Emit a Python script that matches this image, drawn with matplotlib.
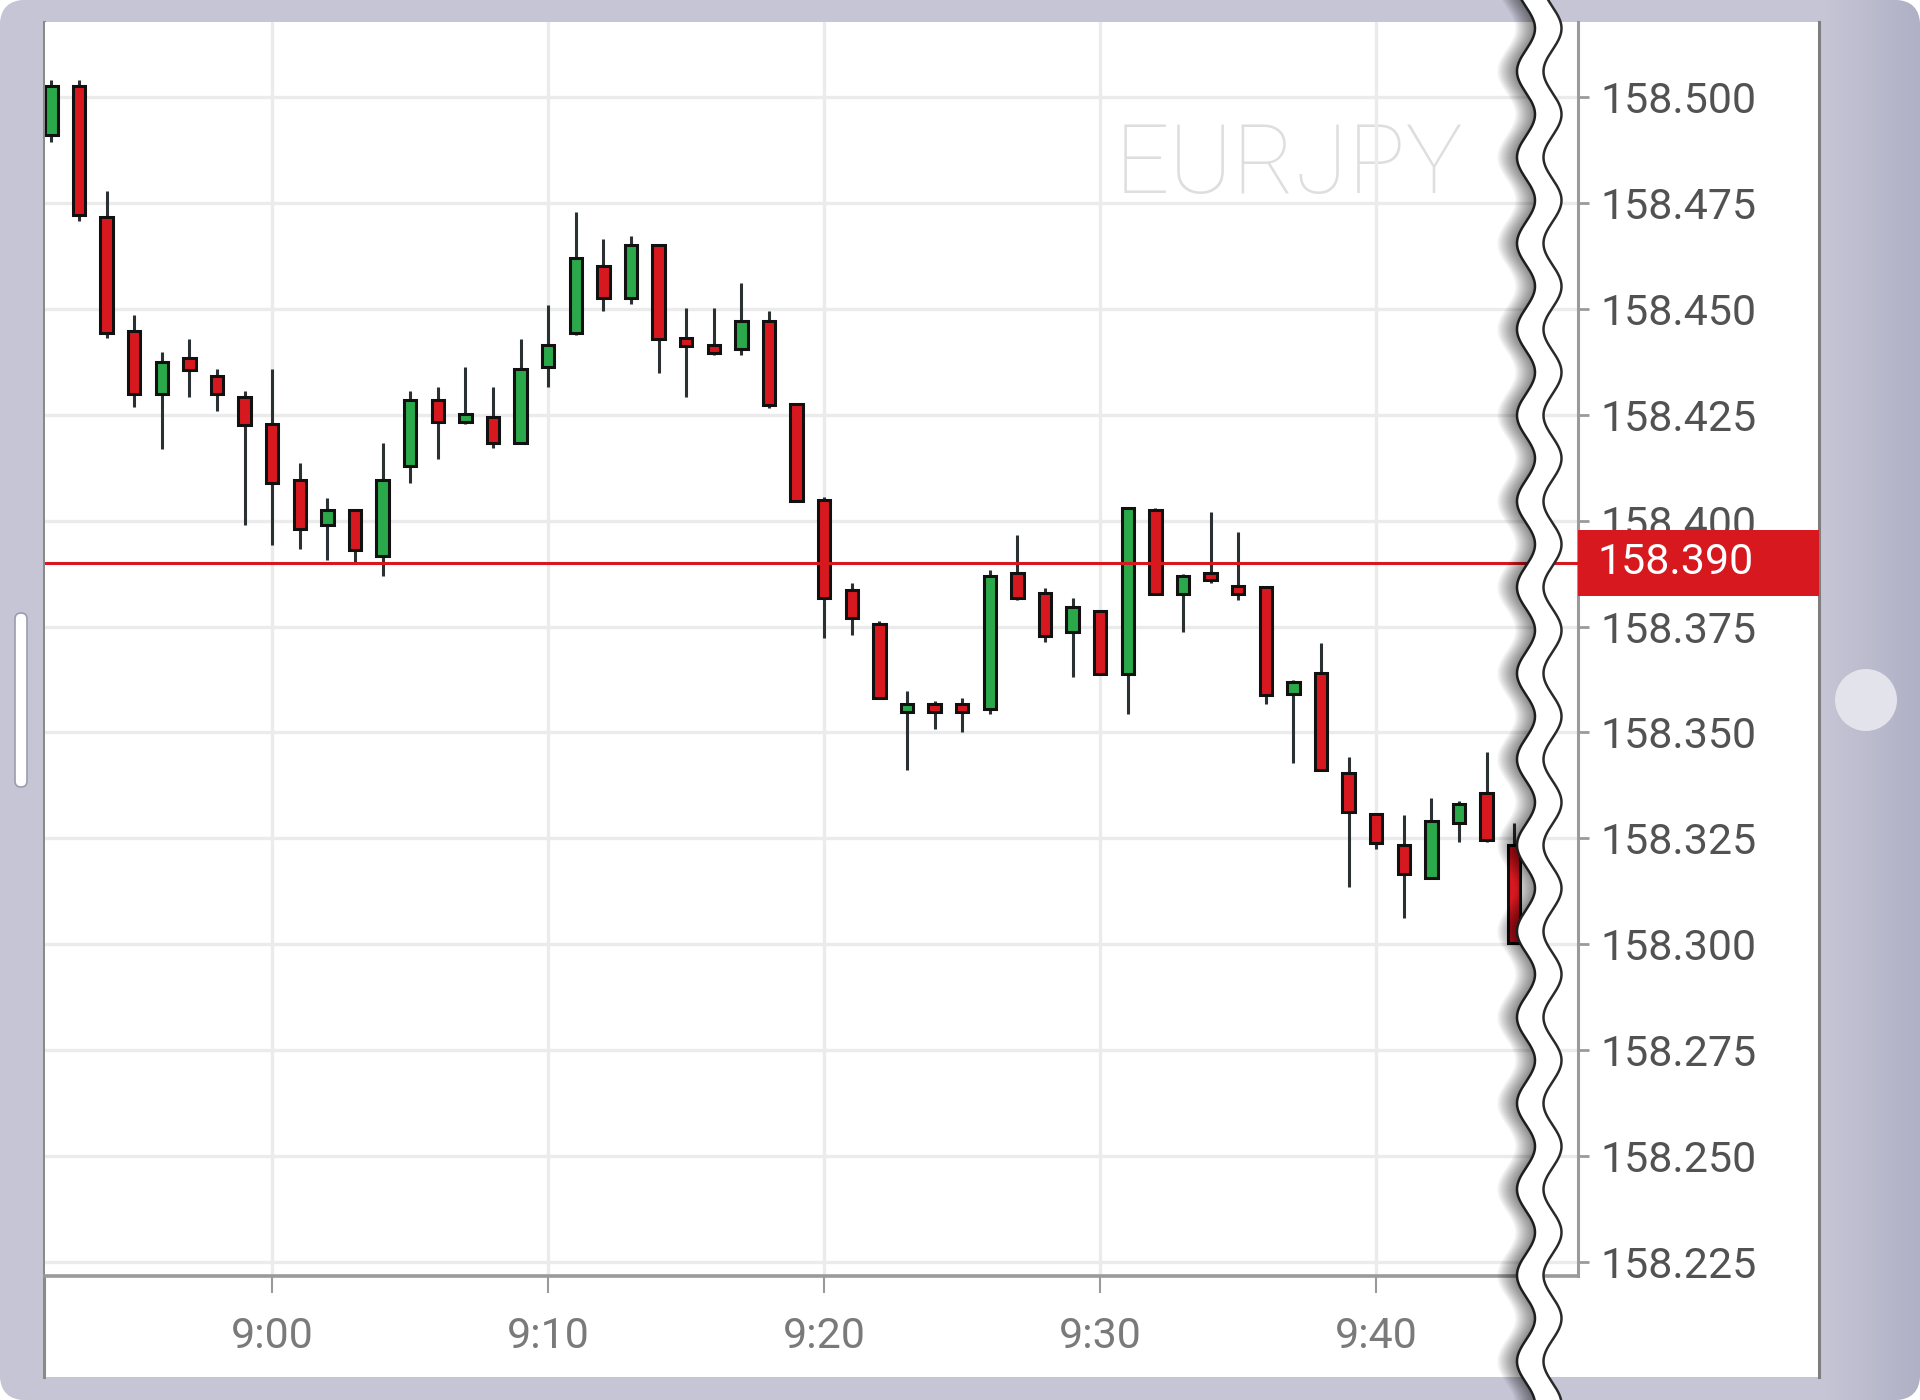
import numpy as np
import matplotlib
matplotlib.use('Agg')
import matplotlib.pyplot as plt
from matplotlib.patches import FancyBboxPatch, Rectangle, Circle
from matplotlib.transforms import blended_transform_factory

plt.rcParams['font.family'] = ['Roboto', 'DejaVu Sans']

# --- data (1-minute EURJPY candles, 8:52 .. 9:45) ---
symbol = 'EURJPY'
current_price = 158.390
start_minute = 8 * 60 + 52

opens = [158.4910, 158.5025, 158.4716, 158.4447, 158.4298, 158.4383, 158.4342, 158.4293,
         158.4228, 158.4097, 158.3990, 158.4024, 158.3916, 158.4128, 158.4284, 158.4234,
         158.4244, 158.4184, 158.4363, 158.4444, 158.4602, 158.4526, 158.4651, 158.4431,
         158.4415, 158.4404, 158.4472, 158.4276, 158.4049, 158.3837, 158.3755, 158.3549,
         158.3568, 158.3568, 158.3556, 158.3877, 158.3829, 158.3736, 158.3787, 158.3638,
         158.4025, 158.3827, 158.3877, 158.3846, 158.3844, 158.3590, 158.3640, 158.3405,
         158.3307, 158.3235, 158.3157, 158.3287, 158.3356, 158.3235]
highs = [158.5041, 158.5040, 158.4779, 158.4485, 158.4397, 158.4429, 158.4357, 158.4307,
         158.4357, 158.4135, 158.4054, 158.4024, 158.4184, 158.4307, 158.4315, 158.4363,
         158.4315, 158.4429, 158.4510, 158.4729, 158.4664, 158.4673, 158.4651, 158.4503,
         158.4503, 158.4560, 158.4495, 158.4276, 158.4055, 158.3852, 158.3762, 158.3598,
         158.3575, 158.3582, 158.3884, 158.3966, 158.3842, 158.3818, 158.3787, 158.4031,
         158.4030, 158.3875, 158.4021, 158.3972, 158.3844, 158.3623, 158.3712, 158.3443,
         158.3307, 158.3305, 158.3346, 158.3339, 158.3453, 158.3287]
lows = [158.4894, 158.4708, 158.4431, 158.4268, 158.4169, 158.4291, 158.4259, 158.3990,
        158.3943, 158.3934, 158.3907, 158.3902, 158.3869, 158.4088, 158.4146, 158.4228,
        158.4171, 158.4184, 158.4316, 158.4438, 158.4496, 158.4512, 158.4348, 158.4292,
        158.4391, 158.4390, 158.4267, 158.4047, 158.3722, 158.3729, 158.3582, 158.3412,
        158.3509, 158.3501, 158.3543, 158.3812, 158.3713, 158.3632, 158.3638, 158.3543,
        158.3827, 158.3738, 158.3852, 158.3812, 158.3566, 158.3429, 158.3411, 158.3135,
        158.3226, 158.3063, 158.3157, 158.3241, 158.3242, 158.3002]
closes = [158.5025, 158.4722, 158.4444, 158.4298, 158.4374, 158.4356, 158.4298, 158.4225,
          158.4088, 158.3981, 158.4024, 158.3931, 158.4097, 158.4284, 158.4234, 158.4252,
          158.4184, 158.4359, 158.4415, 158.4619, 158.4526, 158.4650, 158.4428, 158.4413,
          158.4395, 158.4472, 158.4273, 158.4047, 158.3817, 158.3769, 158.3582, 158.3568,
          158.3549, 158.3549, 158.3870, 158.3817, 158.3728, 158.3795, 158.3638, 158.4031,
          158.3827, 158.3870, 158.3859, 158.3827, 158.3589, 158.3618, 158.3411, 158.3313,
          158.3239, 158.3167, 158.3291, 158.3332, 158.3246, 158.3002]

ytick_values = [158.225, 158.250, 158.275, 158.300, 158.325, 158.350,
                158.375, 158.400, 158.425, 158.450, 158.475, 158.500]
xtick_labels = ['9:00', '9:10', '9:20', '9:30', '9:40']

up_color = '#2aa84a'
down_color = '#d7191f'

W, H = 1920, 1400
fig = plt.figure(figsize=(W / 100, H / 100), dpi=100, facecolor='white')

# --- tablet frame (pixel coordinates, y down) ---
bg = fig.add_axes([0, 0, 1, 1], zorder=-5)
bg.set_xlim(0, W)
bg.set_ylim(H, 0)
bg.axis('off')
frame = FancyBboxPatch((0, 0), W, H, boxstyle='round,pad=0,rounding_size=26',
                       fc='#c4c4d4', ec='none')
bg.add_patch(frame)
base = np.array([197, 197, 213]) / 255
dark = np.array([176, 176, 198]) / 255
t = np.clip((np.arange(W) - 1825) / 95, 0, 1)
grad = np.tile((base + (dark - base) * t[:, None])[None, :, :], (2, 1, 1))
im = bg.imshow(grad, extent=[0, W, H, 0], aspect='auto', zorder=1)
im.set_clip_path(frame)
bg.add_patch(Rectangle((45, 22), 1774, 1355, fc='white', ec='none', zorder=2))
bg.plot([43.5, 43.5], [22, 1377], color='#8a8a8a', lw=2.2, zorder=3)
bg.plot([1818.5, 1818.5], [22, 1377], color='#7e7e7e', lw=2.2, zorder=3)
bg.add_patch(FancyBboxPatch((15, 613), 12, 174, boxstyle='round,pad=0,rounding_size=6',
                            fc='white', ec='#9c9cb0', lw=1.2, zorder=3))
bg.add_patch(Circle((1866, 700), 31, fc='#e3e3eb', ec='none', zorder=3))

# --- chart ---
ax = fig.add_axes([45 / W, 1 - 1276 / H, (1578 - 45) / W, (1276 - 22) / H], zorder=1)
ax.set_facecolor('white')

x = np.arange(len(opens))
o = np.array(opens)
c = np.array(closes)
colors = [up_color if cc >= oo else down_color for oo, cc in zip(o, c)]

ax.vlines(x, lows, highs, color='#2b3133', lw=2.2, zorder=2)
ax.bar(x, np.abs(c - o), bottom=np.minimum(o, c), width=0.45, color=colors,
       edgecolor='#111111', linewidth=2.2, zorder=3)

ax.axhline(current_price, color='#d7191f', lw=2.2, zorder=4)

ax.text(0.925, 0.8636, symbol, transform=ax.transAxes, ha='right', va='baseline',
        fontsize=69, fontweight='light', color='#dedede', zorder=0.4)

ax.set_xlim(-0.232, 55.31)
ax.set_ylim(158.2217, 158.5177)

xtick_pos = [int(s.split(':')[0]) * 60 + int(s.split(':')[1]) - start_minute for s in xtick_labels]
ax.set_xticks(xtick_pos)
ax.set_xticklabels(xtick_labels)
ax.set_yticks(ytick_values)
ax.set_yticklabels([f'{v:.3f}' for v in ytick_values])
ax.yaxis.tick_right()

ax.set_axisbelow(True)
ax.grid(True, color='#ebebeb', lw=2.4)

for s in ['left', 'top']:
    ax.spines[s].set_visible(False)
ax.spines['right'].set_color('#9a9a9a')
ax.spines['right'].set_linewidth(2.2)
ax.spines['bottom'].set_color('#9a9a9a')
ax.spines['bottom'].set_linewidth(2.6)

ax.tick_params(axis='y', direction='out', length=8, width=2, color='#9a9a9a',
               pad=8, labelsize=31, labelcolor='#525252')
ax.tick_params(axis='x', direction='out', length=12, width=1.5, color='#9a9a9a',
               pad=17, labelsize=31, labelcolor='#7a7a7a')

# current price tag on the axis
tr = blended_transform_factory(ax.transAxes, ax.transData)
tag_h = 0.0158
ax.add_patch(Rectangle((1.0, current_price - tag_h / 2), (1819 - 1578) / (1578 - 45), tag_h,
                       transform=tr, fc='#d7191f', ec='none', clip_on=False, zorder=6))
ax.text((1597 - 45) / (1578 - 45), current_price, f'{current_price:.3f}', transform=tr,
        ha='left', va='center', fontsize=31, color='white', zorder=7, clip_on=False)

# --- torn-edge break overlay ---
ov = fig.add_axes([0, 0, 1, 1], zorder=10)
ov.set_xlim(0, W)
ov.set_ylim(H, 0)
ov.axis('off')
ov.patch.set_alpha(0)
wy = np.linspace(-20, H + 20, 1500)
wl = 1526 + 9 * np.sin(2 * np.pi * wy / 86 - 0.5)
wr = wl + 26.5
for k in range(1, 21):
    ov.fill_betweenx(wy, wl - k, wl, color='black', alpha=0.028, lw=0)
ov.fill_betweenx(wy, wl, wr, color='white', lw=0)
ov.plot(wl, wy, color='#1e1e1e', lw=1.8)
ov.plot(wr, wy, color='#2a2a2a', lw=1.8)

fig.savefig('out.png', dpi=100, facecolor='white')
